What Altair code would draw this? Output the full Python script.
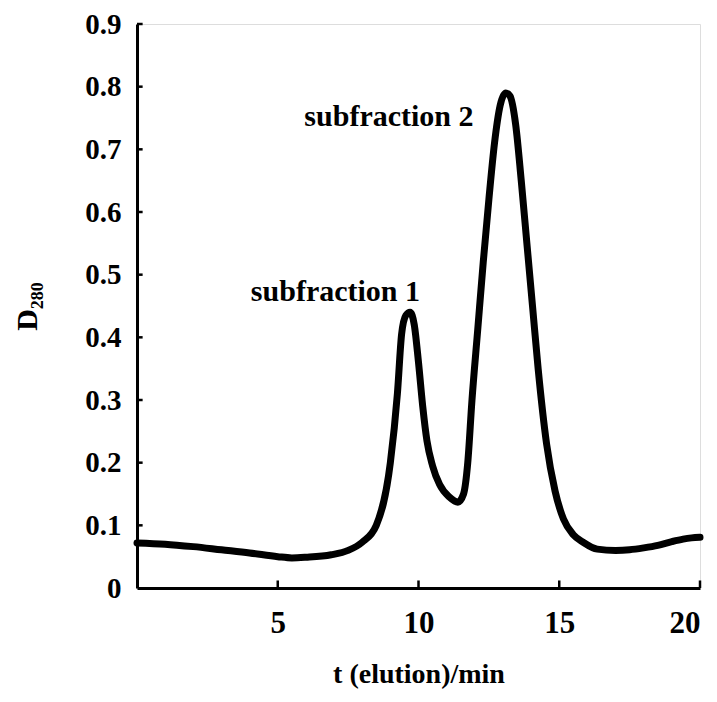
import altair as alt
import pandas as pd

# elution curve (time in min, D280)
t_min = [0.0, 1.0, 2.0, 3.0, 4.0, 5.0, 5.5, 6.0, 6.9, 7.5, 8.0, 8.5, 9.0, 9.25, 9.4, 9.55, 9.7,
         9.85, 10.0, 10.15, 10.3, 10.5, 10.75, 11.1, 11.4, 11.6, 11.75, 11.9, 12.1, 12.3,
         12.5, 12.7, 12.9, 13.1, 13.25, 13.45, 13.65, 13.85, 14.05, 14.25, 14.55, 14.85, 15.15,
         15.5, 15.85, 16.35, 17.0, 17.5, 18.0, 18.5, 19.0, 19.4, 19.7, 20.0]
d280 = [0.072, 0.070, 0.066, 0.061, 0.056, 0.050, 0.048, 0.049, 0.053, 0.060, 0.073, 0.100,
        0.200, 0.310, 0.405, 0.435, 0.440, 0.420, 0.360, 0.290, 0.235, 0.195, 0.165, 0.145,
        0.137, 0.150, 0.200, 0.300, 0.410, 0.520, 0.620, 0.710, 0.770, 0.790, 0.785, 0.740,
        0.650, 0.550, 0.450, 0.350, 0.230, 0.155, 0.110, 0.085, 0.073, 0.062, 0.060, 0.061,
        0.064, 0.068, 0.074, 0.078, 0.080, 0.081]

label_text = ["subfraction 1", "subfraction 2"]
label_x = [7.05, 8.95]
label_y = [0.472, 0.752]

x_ticks = [5, 10, 15, 20]
y_ticks = [0.1, 0.2, 0.3, 0.4, 0.5, 0.6, 0.7, 0.8, 0.9]

curve = pd.DataFrame({"t": t_min, "d": d280})
labels = pd.DataFrame({"text": label_text, "x": label_x, "y": label_y})
xt = pd.DataFrame({"x": x_ticks, "y0": [0.0] * 4, "y1": [0.012] * 4})
yt = pd.DataFrame({"y": y_ticks, "x0": [0.0] * 9, "x1": [0.2] * 9})

FONT = "Liberation Serif"

xscale = alt.Scale(domain=[0, 20], nice=False, zero=False)
yscale = alt.Scale(domain=[0, 0.9], nice=False)

xaxis = alt.Axis(values=x_ticks, title="t (elution)/min", tickSize=0, labelPadding=20,
                 labelFontSize=31, labelFont=FONT, labelFontWeight="bold", labelColor="black",
                 titleFont=FONT, titleFontSize=28, titleFontWeight="bold", titleColor="black",
                 titlePadding=22, domainColor="black", domainWidth=3, grid=False)
yaxis = alt.Axis(values=[0] + y_ticks, title="D₂₈₀", tickSize=0, labelPadding=16,
                 labelExpr="datum.value == 0 ? '0' : format(datum.value, '.1f')",
                 labelFontSize=29, labelFont=FONT, labelFontWeight="bold", labelColor="black",
                 titleFont=FONT, titleFontSize=30, titleFontWeight="bold", titleColor="black",
                 titlePadding=42, domainColor="black", domainWidth=3, grid=False)

line = alt.Chart(curve).mark_line(color="black", strokeWidth=7, interpolate="monotone",
                                  strokeCap="round", strokeJoin="round").encode(
    x=alt.X("t:Q", scale=xscale, axis=xaxis),
    y=alt.Y("d:Q", scale=yscale, axis=yaxis),
)

text = alt.Chart(labels).mark_text(font=FONT, fontSize=30, fontWeight="bold", color="black").encode(
    x=alt.X("x:Q", scale=xscale),
    y=alt.Y("y:Q", scale=yscale),
    text="text:N",
)

xtick = alt.Chart(xt).mark_rule(color="black", strokeWidth=2.5).encode(
    x=alt.X("x:Q", scale=xscale), y=alt.Y("y0:Q", scale=yscale), y2="y1:Q")
ytick = alt.Chart(yt).mark_rule(color="black", strokeWidth=2.5).encode(
    y=alt.Y("y:Q", scale=yscale), x=alt.X("x0:Q", scale=xscale), x2="x1:Q")

chart = alt.layer(line, text, xtick, ytick).properties(
    width=563, height=564,
    autosize=alt.AutoSizeParams(type="none"),
    padding={"left": 129, "top": 16, "right": 8, "bottom": 104},
).configure_view(stroke=None).configure(background="white")

chart.save("out.html", embed_options={"renderer": "svg", "actions": False})
